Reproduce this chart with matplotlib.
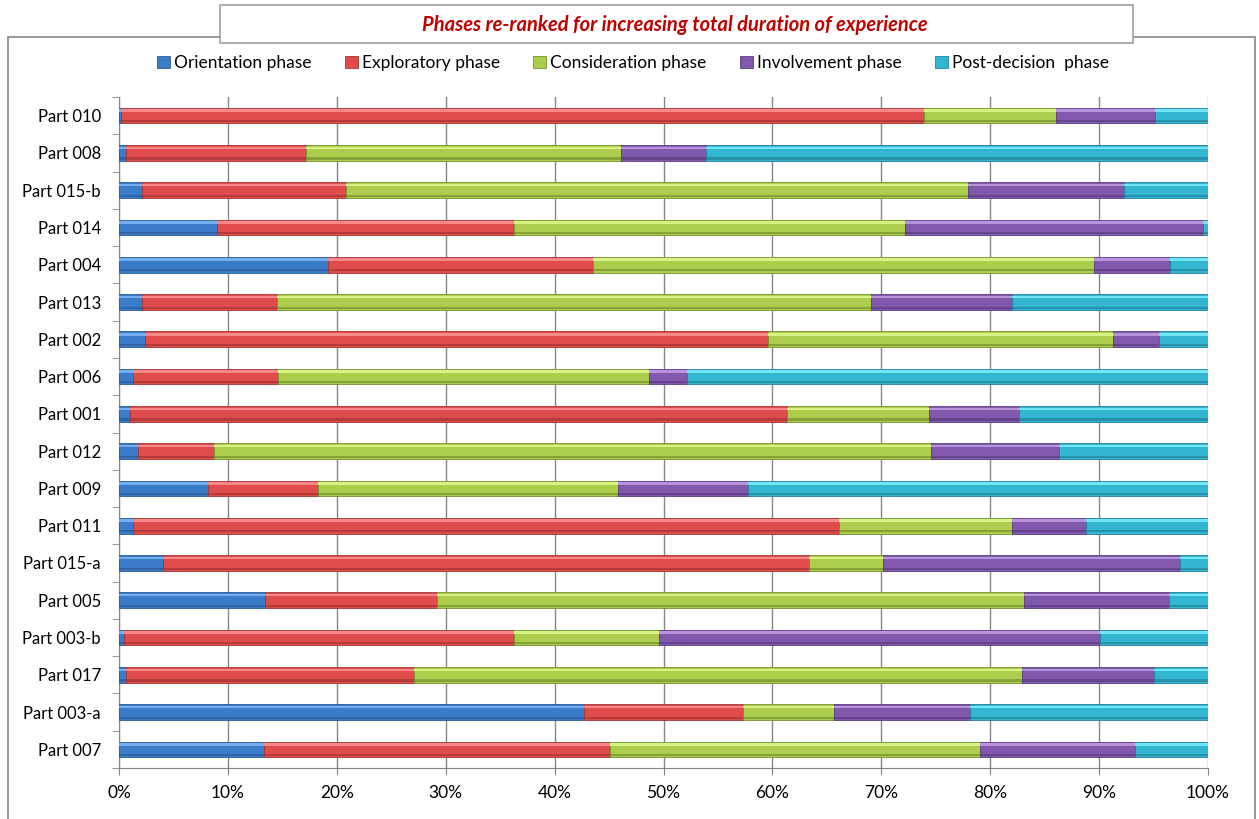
import matplotlib.pyplot as plt
import numpy as np
from matplotlib.patches import Rectangle

plt.rcParams['font.family'] = ['Lato', 'DejaVu Sans']

parts = ["Part 010", "Part 008", "Part 015-b", "Part 014", "Part 004", "Part 013",
         "Part 002", "Part 006", "Part 001", "Part 012", "Part 009", "Part 011",
         "Part 015-a", "Part 005", "Part 003-b", "Part 017", "Part 003-a", "Part 007"]

orientation = [0.2, 0.6, 2.1, 9.0, 19.2, 2.1, 2.4, 1.3, 1.0, 1.7, 8.2, 1.3, 4.0, 13.4, 0.5, 0.6, 42.7, 13.3]
exploratory = [73.7, 16.6, 18.7, 27.3, 24.3, 12.4, 57.2, 13.3, 60.3, 7.0, 10.1, 64.8, 59.4, 15.8, 35.8, 26.5, 14.6, 31.8]
consideration = [12.1, 28.9, 57.2, 35.9, 46.0, 54.6, 31.7, 34.1, 13.1, 65.9, 27.5, 15.9, 6.8, 53.9, 13.3, 55.8, 8.4, 34.0]
involvement = [9.1, 7.8, 14.3, 27.3, 7.0, 12.9, 4.2, 3.5, 8.2, 11.7, 12.0, 6.8, 27.2, 13.3, 40.5, 12.1, 12.4, 14.2]
post_decision = [4.9, 46.1, 7.7, 0.5, 3.5, 18.0, 4.5, 47.8, 17.4, 13.7, 42.2, 11.2, 2.6, 3.6, 9.9, 5.0, 21.9, 6.7]

series = [
    ("Orientation phase", orientation, "#3a7cca", "#72aef0", "#2a5a94"),
    ("Exploratory phase", exploratory, "#e04c4c", "#f88888", "#a43434"),
    ("Consideration phase", consideration, "#acce4c", "#d8f284", "#74902e"),
    ("Involvement phase", involvement, "#8058ac", "#b892dc", "#5a3c80"),
    ("Post-decision  phase", post_decision, "#32b6d2", "#70e6f8", "#22809a"),
]

fig = plt.figure(figsize=(12.59, 8.19), dpi=100)

# outer chart border and title box
fig.patches.append(Rectangle((8 / 1259, -0.1), 1247 / 1259, 1 - 37 / 819 + 0.1,
                             transform=fig.transFigure, fill=False,
                             edgecolor="#868686", linewidth=1.2, zorder=0))
fig.patches.append(Rectangle((220 / 1259, 1 - 43 / 819), 913 / 1259, 38 / 819,
                             transform=fig.transFigure, facecolor="white",
                             edgecolor="#a0a0a0", linewidth=1.2, zorder=1))
fig.text(675 / 1259, 1 - 25 / 819, "Phases re-ranked for increasing total duration of experience",
         ha="center", va="center", color="#c00000", fontsize=14.5,
         fontweight="bold", fontstyle="italic", zorder=2)

ax = fig.add_axes([119 / 1259, 1 - 768 / 819, 1089 / 1259, 671 / 819])

y = np.arange(len(parts))
h = 0.42
left = np.zeros(len(parts))
handles = []
for name, vals, col, light, dark in series:
    vals = np.array(vals)
    b = ax.barh(y, vals, height=h, left=left, color=col, edgecolor=dark,
                linewidth=0.6, zorder=3, label=name)
    # bevel highlight on top, shade at bottom
    ax.barh(y - h * 0.32, vals, height=h * 0.16, left=left, color=light,
            linewidth=0, zorder=4)
    ax.barh(y + h * 0.36, vals, height=h * 0.14, left=left, color=dark,
            linewidth=0, zorder=4, alpha=0.7)
    handles.append(b)
    left = left + vals

ax.set_ylim(len(parts) - 0.5, -0.5)
ax.set_xlim(0, 100)
ax.set_yticks(y)
ax.set_yticklabels(parts, fontsize=12)
ax.set_yticks(np.arange(-0.5, len(parts)), minor=True)
ax.tick_params(axis="y", which="major", length=0, pad=13)
ax.tick_params(axis="y", which="minor", length=5, color="#868686")
ax.set_xticks(np.arange(0, 101, 10))
ax.set_xticklabels([f"{v}%" for v in range(0, 101, 10)], fontsize=12.5)
ax.tick_params(axis="x", length=5, color="#868686", pad=7)
ax.grid(axis="x", color="#868686", linewidth=1, zorder=0)
ax.set_axisbelow(True)
for s in ["top", "right"]:
    ax.spines[s].set_visible(False)
for s in ["left", "bottom"]:
    ax.spines[s].set_color("#868686")

fig.legend(handles=handles, loc="center", bbox_to_anchor=(633 / 1259, 1 - 63 / 819),
           ncol=5, frameon=False, fontsize=12.5, handlelength=0.75, handleheight=0.75,
           handletextpad=0.25, columnspacing=1.9)

fig.savefig("out.png", dpi=100)
